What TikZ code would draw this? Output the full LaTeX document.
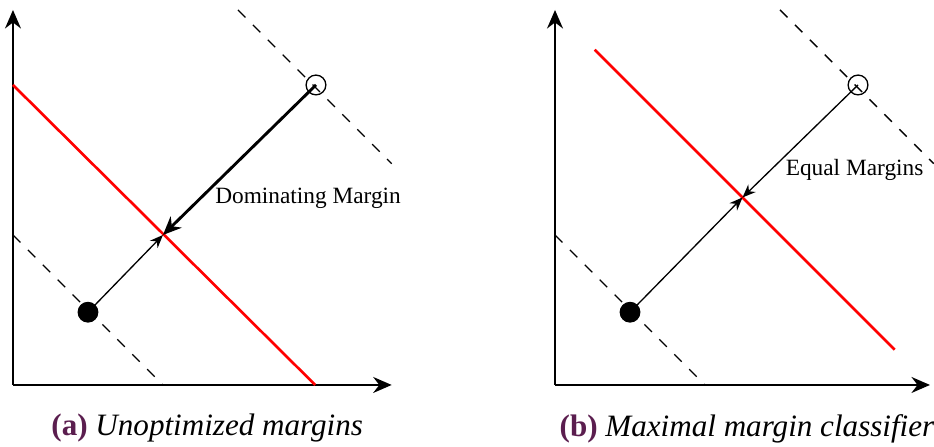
\documentclass[tikz,border=0pt]{standalone}
\usepackage{fontspec}
\setmainfont{Liberation Serif}
\usetikzlibrary{arrows.meta}
\definecolor{capcol}{HTML}{5B1E4F}
\tikzset{
  axis/.style={line width=1.1pt,-{Stealth[length=7pt,width=6pt]}},
  redline/.style={red,line width=1pt},
  dashline/.style={dashed,line width=0.5pt,dash pattern=on 4pt off 4pt},
  filledpt/.style={circle,fill=black,draw=black,inner sep=0pt,minimum size=7.5pt},
  openpt/.style={circle,draw=black,fill=none,inner sep=0pt,minimum size=7.5pt,line width=0.5pt},
  thinarrow/.style={line width=0.5pt,-{Stealth[length=5pt,width=4pt]}},
  thickarrow/.style={line width=1.1pt,-{Stealth[length=7pt,width=6pt]}},
  lbl/.style={font=\fontsize{8.85}{10.5}\selectfont,inner sep=0pt,anchor=west},
  captext/.style={font=\fontsize{11.8}{14}\selectfont,inner sep=0pt}
}
\begin{document}
\begin{tikzpicture}[x=1cm,y=1cm]
\useasboundingbox (-0.173,-0.827) rectangle (12.28,5.133);
% ---------- panel (a) ----------
\begin{scope}
\coordinate (ao) at (0,0);
\coordinate (ax) at (5.05,0);
\coordinate (ay) at (0,5);
\draw[axis] (ao) -- (ax);
\draw[axis] (ao) -- (ay);
\coordinate (ad1s) at (0,2); \coordinate (ad1e) at (2,0);
\coordinate (ad2s) at (3,5); \coordinate (ad2e) at (5.05,2.95);
\draw[dashline] (ad1s) -- (ad1e);
\draw[dashline] (ad2s) -- (ad2e);
\coordinate (ars) at (0,4); \coordinate (are) at (4.03,0);
\draw[redline] (ars) -- (are);
\coordinate (aint) at (2,2);
\node[filledpt] (af) at (1,0.97) {};
\node[openpt] (ae) at (4.04,4) {};
\draw[thinarrow] (af.center) -- (aint);
\draw[thickarrow] (ae.center) -- (aint);
\node[lbl] (alab) at (2.69,2.49) {Dominating Margin};
\node[captext] (acap) at (2.59,-0.58) {\textcolor{capcol}{\textbf{(a)}} \textit{Unoptimized margins}};
\end{scope}
% ---------- panel (b) ----------
\begin{scope}[xshift=7.227cm]
\coordinate (bo) at (0,0);
\coordinate (bx) at (5.0,0);
\coordinate (by) at (0,5);
\draw[axis] (bo) -- (bx);
\draw[axis] (bo) -- (by);
\coordinate (bd1s) at (0,2); \coordinate (bd1e) at (2,0);
\coordinate (bd2s) at (3,5); \coordinate (bd2e) at (5.05,2.95);
\draw[dashline] (bd1s) -- (bd1e);
\draw[dashline] (bd2s) -- (bd2e);
\coordinate (brs) at (0.53,4.47); \coordinate (bre) at (4.53,0.47);
\draw[redline] (brs) -- (bre);
\coordinate (bint) at (2.5,2.5);
\node[filledpt] (bf) at (1,0.97) {};
\node[openpt] (be) at (4.04,4) {};
\draw[thinarrow] (bf.center) -- (bint);
\draw[thinarrow] (be.center) -- (bint);
\node[lbl] (blab) at (3.07,2.87) {Equal Margins};
\node[captext] (bcap) at (2.56,-0.58) {\textcolor{capcol}{\textbf{(b)}} \textit{Maximal margin classifier}};
\end{scope}
\end{tikzpicture}
\end{document}
